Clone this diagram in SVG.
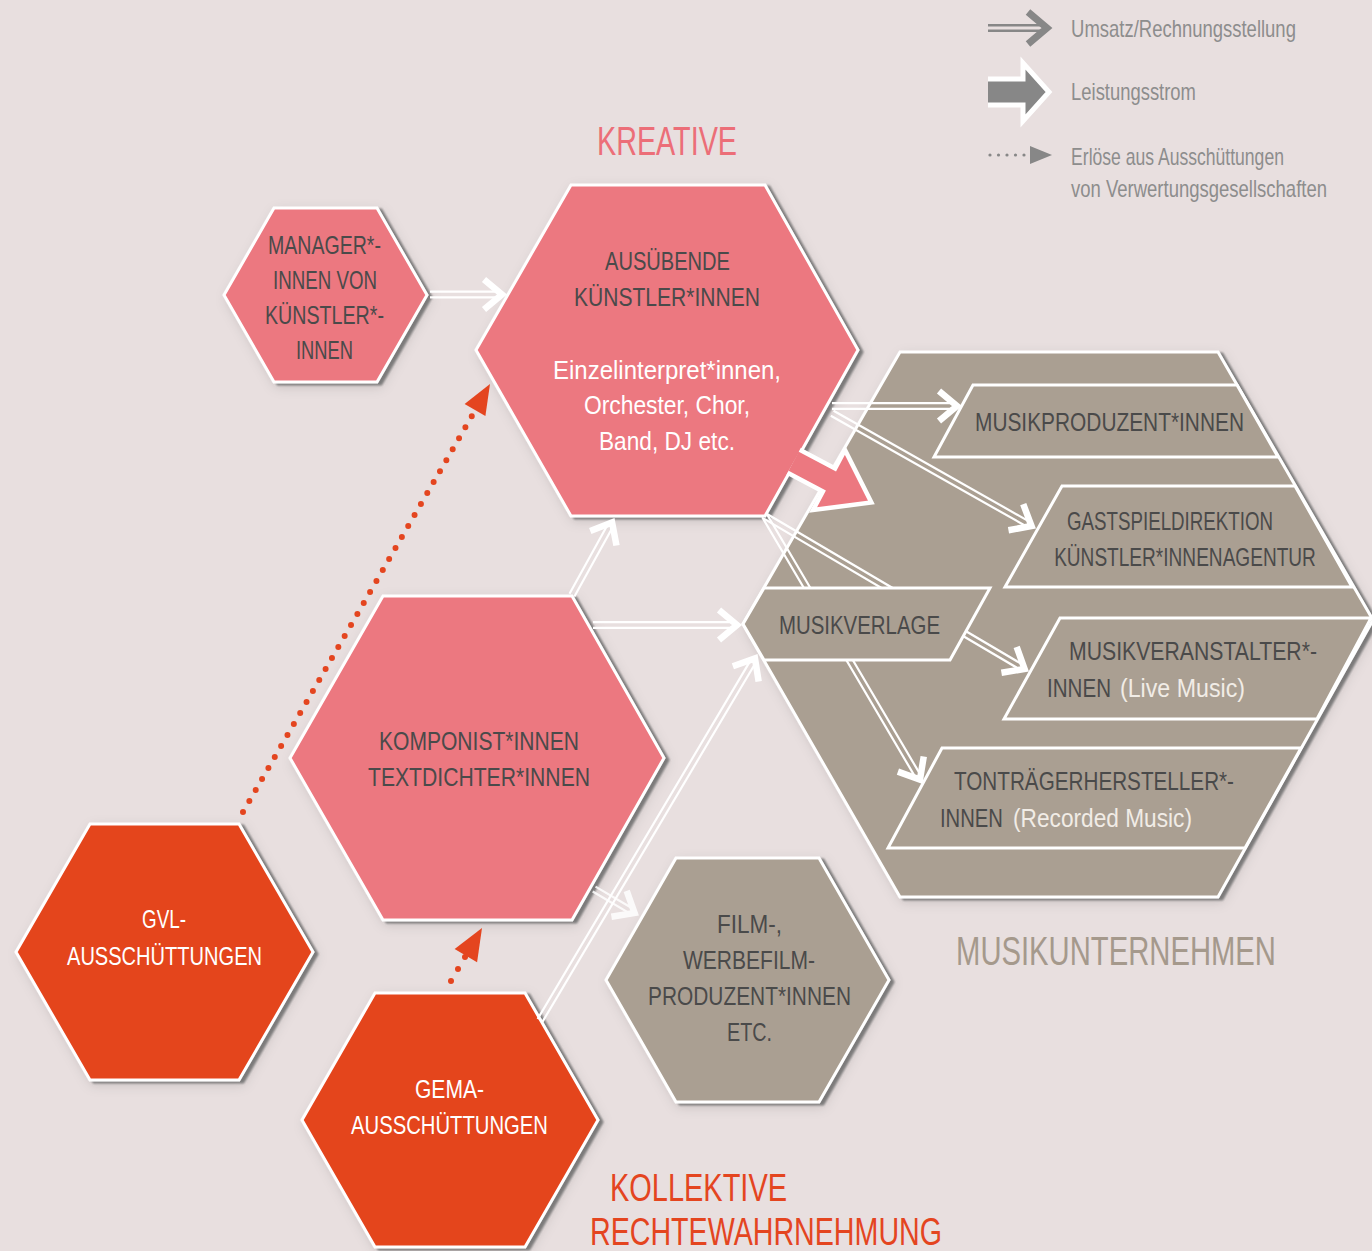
<svg xmlns="http://www.w3.org/2000/svg" width="1372" height="1251" viewBox="0 0 1372 1251">
<defs>
<filter id="sh" x="-10%" y="-10%" width="125%" height="125%">
<feGaussianBlur in="SourceAlpha" stdDeviation="1.3"/>
<feOffset dx="4" dy="2" result="o1"/>
<feFlood flood-color="#6c6c6c" flood-opacity="0.85"/>
<feComposite in2="o1" operator="in" result="s1"/>
<feGaussianBlur in="SourceAlpha" stdDeviation="6"/>
<feOffset dx="3" dy="4" result="o2"/>
<feFlood flood-color="#000" flood-opacity="0.13"/>
<feComposite in2="o2" operator="in" result="s2"/>
<feMerge><feMergeNode in="s2"/><feMergeNode in="s1"/><feMergeNode in="SourceGraphic"/></feMerge>
</filter>
<style>
.hex{stroke:#fff;stroke-width:3;stroke-linejoin:miter}
.pink{fill:#ec7880}
.red{fill:#e4451f}
.tan{fill:#aa9f92}
.band{fill:#aa9f92;stroke:#fff;stroke-width:3}
text{font-family:"Liberation Sans Narrow","Liberation Sans",Arial,sans-serif;text-anchor:middle}
.t{font-size:26px;fill:#4a4a4a}
.w{font-size:26px;fill:#fff}
.lt{font-size:26px;fill:#f1ece6}
.ttl{font-size:41px}
.lg{font-size:23px;fill:#8d8d8d}
.ln{stroke:#fff;stroke-width:2.2;fill:none}
.ch{stroke:#fff;stroke-width:6.5;fill:none;stroke-linejoin:miter;stroke-miterlimit:10}
.gl{stroke:#878787;stroke-width:2.6;fill:none}
.gc{stroke:#878787;stroke-width:7;fill:none;stroke-linejoin:miter;stroke-miterlimit:10}
.dot{stroke:#e4451f;stroke-width:6;stroke-linecap:round;stroke-dasharray:0 12.7;fill:none}
</style>
</defs>
<rect x="0" y="0" width="1372" height="1251" fill="#e8dfdf"/>

<g id="legend">
<g transform="translate(1052,28)"><path class="gl" d="M-64,-2.8H-5M-64,2.8H-5"/><polyline class="gc" points="-24,-16 -5,0 -24,16"/></g>
<g transform="translate(1023,92)"><polygon fill="#878787" points="-35,-13 0,-13 0,-29 26,0 0,29 0,13 -35,13"/><path fill="none" stroke="#fff" stroke-width="5" stroke-linejoin="miter" d="M-35,-13 L0,-13 L0,-29 L26,0 L0,29 L0,13 L-35,13"/></g>
<g fill="#878787"><circle cx="990" cy="155" r="1.6"/><circle cx="998.5" cy="155" r="1.6"/><circle cx="1007" cy="155" r="1.6"/><circle cx="1015.5" cy="155" r="1.6"/><circle cx="1024" cy="155" r="1.6"/><polygon points="1030,146 1052,155 1030,164"/></g>
<text class="lg" transform="translate(1183.5,37) scale(0.8,1)" x="0" y="0" textLength="281" lengthAdjust="spacingAndGlyphs">Umsatz/Rechnungsstellung</text>
<text class="lg" transform="translate(1133.5,100) scale(0.8,1)" x="0" y="0" textLength="156" lengthAdjust="spacingAndGlyphs">Leistungsstrom</text>
<text class="lg" transform="translate(1177.5,165) scale(0.8,1)" x="0" y="0" textLength="266" lengthAdjust="spacingAndGlyphs">Erlöse aus Ausschüttungen</text>
<text class="lg" transform="translate(1199,197) scale(0.8,1)" x="0" y="0" textLength="320" lengthAdjust="spacingAndGlyphs">von Verwertungsgesellschaften</text>
</g>

<g id="titles">
<text class="ttl" x="667" y="155" fill="#ec6e78" textLength="140" lengthAdjust="spacingAndGlyphs">KREATIVE</text>
<text class="ttl" transform="translate(1116,965) scale(0.7,1)" x="0" y="0" fill="#a5998c" textLength="457" lengthAdjust="spacingAndGlyphs">MUSIKUNTERNEHMEN</text>
<text class="ttl" x="698.5" y="1201" fill="#e4451f" style="font-size:39px" textLength="177" lengthAdjust="spacingAndGlyphs">KOLLEKTIVE</text>
<text class="ttl" x="766" y="1245" fill="#e4451f" style="font-size:39px" textLength="352" lengthAdjust="spacingAndGlyphs">RECHTEWAHRNEHMUNG</text>
</g>

<g id="musikunternehmen">
<polygon class="hex tan" filter="url(#sh)" points="743,624 900,352 1218,352 1373,620 1218,897 900,897"/>
</g>
<g id="musikproduzent">
<polygon class="band" points="973,385 1237,385 1278,457 934,457"/>
<text class="t" x="1109.5" y="431" textLength="269" lengthAdjust="spacingAndGlyphs">MUSIKPRODUZENT*INNEN</text>
</g>
<g id="gastspiel">
<polygon class="band" points="1062,486 1295,486 1352,587 1005,587"/>
<text class="t" x="1170" y="530" textLength="206" lengthAdjust="spacingAndGlyphs">GASTSPIELDIREKTION</text>
<text class="t" transform="translate(1185,566) scale(0.75,1)" x="0" y="0" textLength="349" lengthAdjust="spacingAndGlyphs">KÜNSTLER*INNENAGENTUR</text>
</g>
<g id="veranstalter">
<polygon class="band" points="1060,618 1371,618 1317,719 1004,719"/>
<text class="t" transform="translate(1193,660) scale(0.8,1)" x="0" y="0" textLength="310" lengthAdjust="spacingAndGlyphs">MUSIKVERANSTALTER*-</text>
<text class="t" x="1079" y="697" textLength="64" lengthAdjust="spacingAndGlyphs">INNEN</text>
<text class="lt" x="1182.5" y="697" textLength="125" lengthAdjust="spacingAndGlyphs">(Live Music)</text>
</g>
<g id="tontraeger">
<polygon class="band" points="942,748 1301,748 1245,848 888,848"/>
<text class="t" x="1094" y="790" textLength="280" lengthAdjust="spacingAndGlyphs">TONTRÄGERHERSTELLER*-</text>
<text class="t" x="971.5" y="827" textLength="63" lengthAdjust="spacingAndGlyphs">INNEN</text>
<text class="lt" x="1102.5" y="827" textLength="179" lengthAdjust="spacingAndGlyphs">(Recorded Music)</text>
</g>

<g id="manager">
<polygon class="hex pink" filter="url(#sh)" points="224,295 274,208 377,208 427,295 377,382 274,382"/>
<text class="t" x="324.5" y="254" textLength="113" lengthAdjust="spacingAndGlyphs">MANAGER*-</text>
<text class="t" x="325" y="289" textLength="104" lengthAdjust="spacingAndGlyphs">INNEN VON</text>
<text class="t" x="324.5" y="324" textLength="119" lengthAdjust="spacingAndGlyphs">KÜNSTLER*-</text>
<text class="t" x="324.5" y="359" textLength="57" lengthAdjust="spacingAndGlyphs">INNEN</text>
</g>

<g id="ausuebende">
<polygon class="hex pink" filter="url(#sh)" points="476,350 571,185 765,185 858,350 765,516 571,516"/>
<text class="t" x="667.5" y="270" textLength="125" lengthAdjust="spacingAndGlyphs">AUSÜBENDE</text>
<text class="t" x="667" y="306" textLength="186" lengthAdjust="spacingAndGlyphs">KÜNSTLER*INNEN</text>
<text class="w" x="667" y="379" textLength="228" lengthAdjust="spacingAndGlyphs">Einzelinterpret*innen,</text>
<text class="w" x="667" y="414" textLength="166" lengthAdjust="spacingAndGlyphs">Orchester, Chor,</text>
<text class="w" x="667" y="450" textLength="136" lengthAdjust="spacingAndGlyphs">Band, DJ etc.</text>
</g>

<g id="komponist">
<polygon class="hex pink" filter="url(#sh)" points="290,758 383,596 572,596 664,758 572,920 383,920"/>
<text class="t" x="479" y="750" textLength="200" lengthAdjust="spacingAndGlyphs">KOMPONIST*INNEN</text>
<text class="t" x="479" y="786" textLength="222" lengthAdjust="spacingAndGlyphs">TEXTDICHTER*INNEN</text>
</g>

<g id="gvl">
<polygon class="hex red" filter="url(#sh)" points="16,952 90,824 239,824 313,952 239,1080 90,1080"/>
<text class="w" x="164" y="928" textLength="44" lengthAdjust="spacingAndGlyphs">GVL-</text>
<text class="w" x="164.5" y="965" textLength="195" lengthAdjust="spacingAndGlyphs">AUSSCHÜTTUNGEN</text>
</g>

<g id="gema">
<polygon class="hex red" filter="url(#sh)" points="302,1120 375,993 525,993 598,1120 525,1247 375,1247"/>
<text class="w" x="449.5" y="1098" textLength="69" lengthAdjust="spacingAndGlyphs">GEMA-</text>
<text class="w" x="449.5" y="1134" textLength="197" lengthAdjust="spacingAndGlyphs">AUSSCHÜTTUNGEN</text>
</g>

<g id="film">
<polygon class="hex tan" filter="url(#sh)" points="606,980 676,858 819,858 889,980 819,1102 676,1102"/>
<text class="t" x="749.5" y="933" textLength="65" lengthAdjust="spacingAndGlyphs">FILM-,</text>
<text class="t" x="749" y="969" textLength="132" lengthAdjust="spacingAndGlyphs">WERBEFILM-</text>
<text class="t" x="749.5" y="1005" textLength="203" lengthAdjust="spacingAndGlyphs">PRODUZENT*INNEN</text>
<text class="t" x="749.5" y="1041" textLength="45" lengthAdjust="spacingAndGlyphs">ETC.</text>
</g>

<g id="connectors">
<g transform="translate(506,294.5)"><path class="ln" d="M-76,-2.8H-5M-76,2.8H-5"/><polyline class="ch" points="-22,-15 -4,0 -22,15"/></g>
<g transform="translate(961,406)"><path class="ln" d="M-129,-2.8H-5M-129,2.8H-5"/><polyline class="ch" points="-22,-15 -4,0 -22,15"/></g>
<g transform="translate(1035,528) rotate(29.5)"><path class="ln" d="M-233,-2.8H-5M-233,2.8H-5"/><polyline class="ch" points="-22,-15 -4,0 -22,15"/></g>
<g transform="translate(1028,671) rotate(30.5)"><path class="ln" d="M-305,-2.8H-5M-305,2.8H-5"/><polyline class="ch" points="-22,-15 -4,0 -22,15"/></g>
<g transform="translate(922,783) rotate(59.5)"><path class="ln" d="M-310,-2.8H-5M-310,2.8H-5"/><polyline class="ch" points="-22,-15 -4,0 -22,15"/></g>
<g transform="translate(614,519) rotate(-61.1)"><path class="ln" d="M-87,-2.8H-5M-87,2.8H-5"/><polyline class="ch" points="-22,-15 -4,0 -22,15"/></g>
<g transform="translate(741,625)"><path class="ln" d="M-148,-2.8H-5M-148,2.8H-5"/><polyline class="ch" points="-22,-15 -4,0 -22,15"/></g>
<g transform="translate(757,655) rotate(-59.3)"><path class="ln" d="M-425,-2.8H-5M-425,2.8H-5"/><polyline class="ch" points="-22,-15 -4,0 -22,15"/></g>
<g transform="translate(638,915) rotate(30.6)" opacity="0.85"><path class="ln" d="M-51,-2.8H-5M-51,2.8H-5"/><polyline class="ch" points="-22,-15 -4,0 -22,15"/></g>
<g transform="translate(829,480) rotate(28)"><polygon fill="#ec7880" points="-40,-13 0,-13 0,-34 48,0 0,34 0,13 -40,13"/><path fill="none" stroke="#fff" stroke-width="4.5" stroke-linejoin="miter" d="M-40,-13 L0,-13 L0,-34 L48,0 L0,34 L0,13 L-40,13"/></g>
<path class="dot" d="M243,812 L473,414"/>
<polygon fill="#e4451f" transform="translate(490,384) rotate(-60)" points="0,0 -30,-12 -30,12"/>
<g fill="#e4451f"><circle cx="451" cy="981" r="3"/><circle cx="458" cy="969" r="3"/><circle cx="465" cy="957" r="3"/></g>
<polygon fill="#e4451f" transform="translate(482,928) rotate(-59.7)" points="0,0 -32,-13 -32,13"/>
</g>

<g id="musikverlage">
<polygon class="band" points="743,624 764,588 990,588 950,660 764,660"/>
<text class="t" x="859.5" y="634" textLength="161" lengthAdjust="spacingAndGlyphs">MUSIKVERLAGE</text>
</g>
</svg>
